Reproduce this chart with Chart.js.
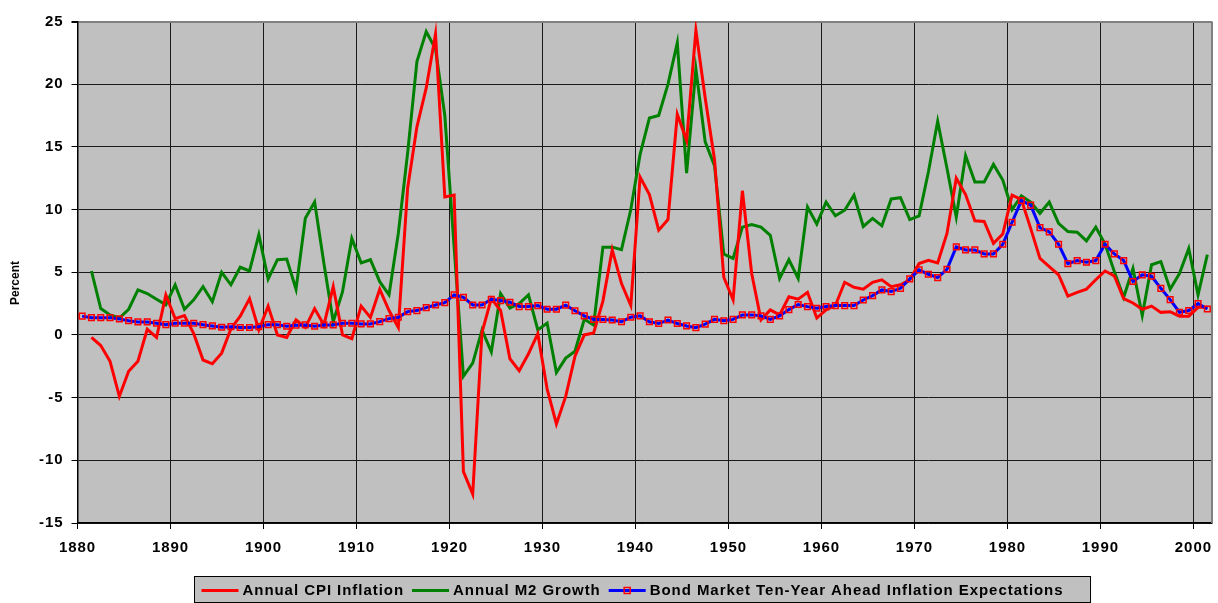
<!DOCTYPE html>
<html><head><meta charset="utf-8">
<script src="https://cdn.jsdelivr.net/npm/chart.js@4.4.1/dist/chart.umd.min.js"></script>
<style>html,body{margin:0;padding:0;background:#fff;}canvas{display:block;}</style>
</head><body>
<canvas id="c" width="1218" height="603"></canvas>
<script>
const YEARS = [1880,1881,1882,1883,1884,1885,1886,1887,1888,1889,
1890,1891,1892,1893,1894,1895,1896,1897,1898,1899,
1900,1901,1902,1903,1904,1905,1906,1907,1908,1909,
1910,1911,1912,1913,1914,1915,1916,1917,1918,1919,
1920,1921,1922,1923,1924,1925,1926,1927,1928,1929,
1930,1931,1932,1933,1934,1935,1936,1937,1938,1939,
1940,1941,1942,1943,1944,1945,1946,1947,1948,1949,
1950,1951,1952,1953,1954,1955,1956,1957,1958,1959,
1960,1961,1962,1963,1964,1965,1966,1967,1968,1969,
1970,1971,1972,1973,1974,1975,1976,1977,1978,1979,
1980,1981,1982,1983,1984,1985,1986,1987,1988,1989,
1990,1991,1992,1993,1994,1995,1996,1997,1998,1999,
2000,2001];

const CPI_INFLATION = [null,-0.2,-0.85,-2.1,-4.9,-2.9,-2.1,0.45,-0.2,3.2,
1.3,1.55,0.1,-2.0,-2.3,-1.45,0.5,1.5,2.9,0.4,
2.3,0.0,-0.2,1.2,0.6,2.1,0.8,3.85,0.0,-0.3,
2.3,1.4,3.65,1.95,0.6,11.7,16.6,19.7,24.0,11.0,
11.15,-10.9,-12.7,0.2,2.9,1.95,-1.9,-2.85,-1.5,0.1,
-4.3,-7.1,-4.9,-1.7,0.0,0.15,2.7,6.8,4.1,2.35,
12.6,11.2,8.35,9.2,17.6,15.5,24.3,18.9,14.0,4.6,
2.8,11.5,4.9,1.2,2.0,1.6,3.05,2.85,3.4,1.35,
2.0,2.35,4.2,3.8,3.65,4.2,4.4,3.85,4.0,4.4,
5.7,5.95,5.75,8.1,12.5,11.2,9.1,9.05,7.3,8.05,
11.15,10.8,8.5,6.1,5.45,4.8,3.1,3.4,3.65,4.4,
5.1,4.7,2.9,2.55,2.05,2.3,1.8,1.85,1.5,1.5,
2.2,2.2];

const M2_GROWTH = [null,5.1,2.1,1.6,1.35,2.05,3.6,3.3,2.85,2.4,
4.0,2.05,2.8,3.85,2.65,5.0,4.0,5.4,5.1,8.0,
4.45,6.0,6.05,3.65,9.3,10.6,5.7,1.05,3.45,7.7,
5.75,6.0,4.25,3.2,8.1,14.5,21.8,24.2,22.8,17.5,
7.0,-3.3,-2.25,0.4,-1.35,3.3,2.15,2.5,3.2,0.4,
0.95,-3.0,-1.85,-1.3,1.25,0.8,7.0,7.0,6.8,10.0,
14.4,17.3,17.5,20.0,23.3,12.9,21.2,15.4,13.5,6.45,
6.1,8.6,8.8,8.6,7.95,4.5,6.0,4.5,10.2,8.85,
10.6,9.5,9.95,11.15,8.65,9.3,8.7,10.85,10.95,9.2,
9.5,13.0,17.05,13.3,9.4,14.3,12.2,12.2,13.6,12.35,
10.0,11.1,10.6,9.7,10.6,8.9,8.25,8.2,7.5,8.6,
7.25,5.05,3.0,5.3,1.55,5.6,5.85,3.65,4.9,6.9,
3.2,6.4];

const EXPECTATIONS = [1.5,1.38,1.38,1.38,1.28,1.14,1.04,1.04,0.93,0.82,
0.93,0.93,0.93,0.82,0.72,0.61,0.66,0.59,0.59,0.66,
0.82,0.82,0.69,0.77,0.8,0.69,0.8,0.8,0.93,0.93,
0.88,0.88,1.06,1.3,1.41,1.86,1.94,2.18,2.39,2.58,
3.19,3.0,2.39,2.39,2.85,2.74,2.61,2.26,2.26,2.34,
2.05,2.05,2.38,1.93,1.52,1.24,1.24,1.19,1.05,1.41,
1.52,1.05,0.91,1.19,0.91,0.72,0.58,0.86,1.24,1.13,
1.24,1.6,1.6,1.52,1.24,1.52,2.02,2.43,2.26,2.13,
2.26,2.34,2.34,2.34,2.79,3.14,3.59,3.46,3.72,4.47,
5.19,4.84,4.57,5.24,7.02,6.78,6.78,6.46,6.46,7.23,
8.99,10.72,10.35,8.56,8.22,7.23,5.69,5.93,5.8,5.93,
7.23,6.46,5.93,4.26,4.79,4.68,3.72,2.82,1.81,1.95,
2.5,2.07];

const X_TICKS = [1880,1890,1900,1910,1920,1930,1940,1950,1960,1970,1980,1990,2000];
const Y_MIN = -15, Y_MAX = 25, Y_STEP = 5;
const SERIES_LABELS = ['Annual CPI Inflation','Annual M2 Growth','Bond Market Ten-Year Ahead Inflation Expectations'];
const AXIS_TITLE = 'Percent';

const FONT = "'Liberation Sans', Arial, sans-serif";
const SPACING = '0.95px';

// each annual value is plotted at the middle of its year
const toPoints = arr => YEARS.map((yr, i) => ({x: yr + 0.5, y: arr[i]}));

const decor = {
  id: 'decor',
  beforeLayout(chart){ chart.ctx.letterSpacing = SPACING; },
  beforeDraw(chart){
    const {ctx, chartArea: a} = chart;
    ctx.letterSpacing = SPACING;
    ctx.save();
    ctx.fillStyle = '#ffffff';
    ctx.fillRect(0, 0, chart.width, chart.height);
    ctx.fillStyle = '#c0c0c0';
    ctx.fillRect(a.left, a.top, a.right - a.left, a.bottom - a.top);
    ctx.restore();
  },
  afterDraw(chart){
    const {ctx, chartArea: a} = chart;
    ctx.save();
    // right plot border
    ctx.strokeStyle = '#808080';
    ctx.lineWidth = 2;
    ctx.beginPath(); ctx.moveTo(a.right, a.top); ctx.lineTo(a.right, a.bottom); ctx.stroke();

    // y-axis title
    ctx.save();
    ctx.letterSpacing = '0px';
    ctx.font = 'bold 12px ' + FONT;
    ctx.fillStyle = '#000';
    ctx.textAlign = 'center'; ctx.textBaseline = 'middle';
    ctx.translate(16, 283);
    ctx.rotate(-Math.PI / 2);
    ctx.fillText(AXIS_TITLE, 0, 0);
    ctx.restore();

    // legend
    ctx.letterSpacing = SPACING;
    ctx.font = 'bold 15px ' + FONT;
    const sample = 37, gapText = 4, gapItem = 8, padL = 7, padR = 27;
    const ds = chart.data.datasets;
    let content = 0;
    ds.forEach((d, i) => {
      content += sample + gapText + ctx.measureText(d.label).width + (i < ds.length - 1 ? gapItem : 0);
    });
    const boxW = padL + content + padR, boxH = 26;
    const boxX = Math.round(642 - boxW / 2) + 0.5, boxY = 576.5;
    ctx.fillStyle = '#c0c0c0';
    ctx.fillRect(boxX, boxY, boxW, boxH);
    ctx.strokeStyle = '#000'; ctx.lineWidth = 1;
    ctx.strokeRect(boxX, boxY, boxW, boxH);
    let x = boxX + padL;
    const cy = boxY + boxH / 2 + 1;
    ds.forEach((d, i) => {
      ctx.strokeStyle = d.borderColor; ctx.lineWidth = 3;
      ctx.beginPath(); ctx.moveTo(x, cy); ctx.lineTo(x + sample, cy); ctx.stroke();
      if (d.pointRadius > 0) {
        ctx.strokeStyle = d.pointBorderColor; ctx.lineWidth = 1.5;
        ctx.strokeRect(x + sample / 2 - 3, cy - 3, 6, 6);
      }
      x += sample + gapText;
      ctx.fillStyle = '#000'; ctx.textAlign = 'left'; ctx.textBaseline = 'middle';
      ctx.fillText(d.label, x, cy);
      x += ctx.measureText(d.label).width + gapItem;
    });
    ctx.restore();
  }
};

new Chart(document.getElementById('c'), {
  type: 'line',
  data: {
    datasets: [
      {label: SERIES_LABELS[0], data: toPoints(CPI_INFLATION), borderColor: '#ff0000', borderWidth: 3,
       pointRadius: 0, tension: 0, order: 1, spanGaps: false},
      {label: SERIES_LABELS[1], data: toPoints(M2_GROWTH), borderColor: '#008000', borderWidth: 3,
       pointRadius: 0, tension: 0, order: 2},
      {label: SERIES_LABELS[2], data: toPoints(EXPECTATIONS), borderColor: '#0000ff', borderWidth: 3,
       pointRadius: 4, pointStyle: 'rect', pointBorderColor: '#ff0000', pointBackgroundColor: 'rgba(0,0,0,0)',
       pointBorderWidth: 1.5, tension: 0, order: 0}
    ]
  },
  options: {
    responsive: false,
    devicePixelRatio: 1,
    animation: false,
    layout: {padding: {top: 21.5, right: 6, bottom: 45, left: 0}},
    plugins: {legend: {display: false}, tooltip: {enabled: false}, title: {display: false}},
    scales: {
      x: {
        type: 'linear', min: 1880, max: 2002,
        afterBuildTicks(s){ s.ticks = X_TICKS.map(v => ({value: v})); },
        afterFit(s){ s.height = 35; s.paddingLeft = 0; s.paddingRight = 0; },
        ticks: {color: '#000', font: {family: FONT, size: 15, weight: 'bold'}, maxRotation: 0, autoSkip: false,
                padding: 10, callback: v => String(v)},
        grid: {color: '#1a1a1a', lineWidth: 1, tickLength: 6, tickColor: '#000'},
        border: {color: '#000', width: 1.5}
      },
      y: {
        min: Y_MIN, max: Y_MAX,
        afterFit(s){ s.width = 77.5; s.paddingTop = 0; s.paddingBottom = 0; },
        ticks: {stepSize: Y_STEP, color: '#000', font: {family: FONT, size: 15, weight: 'bold'}, padding: 8,
                callback: v => String(v)},
        grid: {color: c => (c.tick && c.tick.value === Y_MAX) ? '#808080' : '#1a1a1a',
               lineWidth: c => (c.tick && c.tick.value === Y_MAX) ? 2 : 1, tickLength: 6, tickColor: '#000'},
        border: {color: '#000', width: 1.5},
        title: {display: false}
      }
    }
  },
  plugins: [decor]
});
</script>
</body></html>
